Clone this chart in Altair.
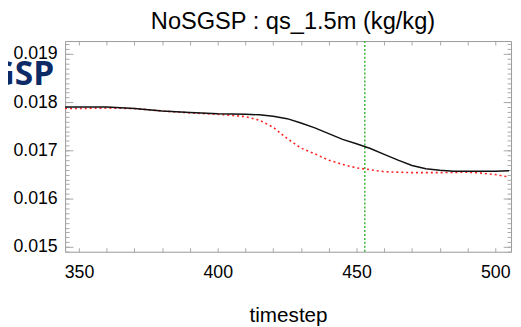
import altair as alt
import pandas as pd

# ---- data ----
t_black = [345, 350, 360, 370, 380, 390, 400, 410, 415, 420, 425, 430, 435, 440,
           445, 450, 455, 460, 465, 470, 475, 480, 485, 490, 495, 500, 505]
qs_black = [0.01790, 0.01790, 0.01790, 0.01787, 0.01782, 0.01779, 0.01776, 0.01775,
            0.01774, 0.01771, 0.01766, 0.01757, 0.01747, 0.01735, 0.01723, 0.01714,
            0.01704, 0.01692, 0.01680, 0.01669, 0.01662, 0.01659, 0.01657, 0.01657,
            0.01657, 0.01657, 0.01658]

t_red = [345, 350, 360, 370, 380, 390, 400, 405, 410, 415, 420, 425, 430, 435, 440,
         445, 450, 455, 460, 465, 470, 480, 490, 495, 500, 505]
qs_red = [0.01787, 0.01787, 0.01788, 0.01787, 0.01782, 0.01778, 0.01775, 0.01773,
          0.01770, 0.01763, 0.01748, 0.01725, 0.01705, 0.01693, 0.01680, 0.01671,
          0.01664, 0.01660, 0.01656, 0.01655, 0.01654, 0.01654, 0.01655, 0.01653,
          0.01650, 0.01645]

marker_t = [453]

x_labels = [350, 400, 450, 500]
y_labels = [0.015, 0.016, 0.017, 0.018, 0.019]
x_minor = list(range(350, 510, 10))
y_minor = [round(0.0149 + i * 0.0001, 4) for i in range(44)]

title_text = "NoSGSP : qs_1.5m (kg/kg)"
x_title = "timestep"
logo_text = "GSP"

# ---- layout ----
W, H = 453, 214
FONT = "Liberation Sans"
TICK = "#a8a8a8"

xs = alt.Scale(domain=[345, 505.7], nice=False, zero=False)
ys = alt.Scale(domain=[0.0149, 0.01927], nice=False, zero=False)

black_df = pd.DataFrame({"t": t_black, "qs": qs_black})
red_df = pd.DataFrame({"t": t_red, "qs": qs_red})
mark_df = pd.DataFrame({"t": marker_t})


def tick_axis(orient, values, size, offset):
    return alt.Axis(orient=orient, values=values, tickSize=size, offset=offset,
                    labels=False, domain=False, grid=False, title=None,
                    tickColor=TICK, tickWidth=1)


black = alt.Chart(black_df).mark_line(color="#111111", strokeWidth=1.5).encode(
    x=alt.X("t:Q", scale=xs, axis=alt.Axis(
        orient="bottom", values=x_labels, ticks=False, tickSize=0, domain=False,
        grid=False, labelFontSize=18, labelFont=FONT, labelColor="#000",
        labelPadding=12, title=x_title, titleFontSize=21, titleFont=FONT,
        titleFontWeight="normal", titleColor="#000", titlePadding=24)),
    y=alt.Y("qs:Q", scale=ys, axis=alt.Axis(
        orient="left", values=y_labels, format=".3f", ticks=False, tickSize=0,
        domain=False, grid=False, labelFontSize=18, labelFont=FONT,
        labelColor="#000", labelPadding=8, title=None)),
)

red = alt.Chart(red_df).mark_line(color="#ff2020", strokeWidth=1.6,
                                  strokeDash=[2, 3]).encode(
    x=alt.X("t:Q", scale=xs, axis=tick_axis("top", x_minor, 4, -H)),
    y=alt.Y("qs:Q", scale=ys, axis=tick_axis("right", y_minor, 4, -W)),
)

ghost1 = alt.Chart(black_df).mark_point(opacity=0).encode(
    x=alt.X("t:Q", scale=xs, axis=tick_axis("bottom", x_minor, 4, -H)),
    y=alt.Y("qs:Q", scale=ys, axis=tick_axis("right", y_labels, 8, -W)),
)
ghost2 = alt.Chart(black_df).mark_point(opacity=0).encode(
    x=alt.X("t:Q", scale=xs, axis=None),
    y=alt.Y("qs:Q", scale=ys, axis=tick_axis("left", y_minor, 4, -W)),
)
ghost3 = alt.Chart(black_df).mark_point(opacity=0).encode(
    x=alt.X("t:Q", scale=xs, axis=None),
    y=alt.Y("qs:Q", scale=ys, axis=tick_axis("left", y_labels, 8, -W)),
)

vline = alt.Chart(mark_df).mark_rule(color="#44bb44", strokeWidth=1.6,
                                     strokeDash=[2, 2]).encode(
    x=alt.X("t:Q", scale=xs, axis=None),
)

logo = alt.Chart(pd.DataFrame({"txt": [logo_text]})).mark_text(
    align="right", baseline="alphabetic", font="Open Sans", fontSize=34,
    fontWeight="bold", color="#0b2a66",
).encode(text="txt:N", x=alt.value(-11), y=alt.value(45))

chart = alt.layer(
    ghost1, ghost2, ghost3, vline, red, black, logo
).resolve_axis(
    x="independent", y="independent"
).properties(
    width=W, height=H,
    autosize=alt.AutoSizeParams(type="none"),
    padding={"left": 58, "top": 31, "right": 2, "bottom": 80},
    title=alt.TitleParams(title_text, fontSize=24, font=FONT,
                          fontWeight="normal", color="#000", anchor="middle",
                          dx=5, offset=6),
).configure_view(stroke="#999999", strokeWidth=1)

chart.save("out.html", embed_options={"renderer": "svg", "actions": False})
